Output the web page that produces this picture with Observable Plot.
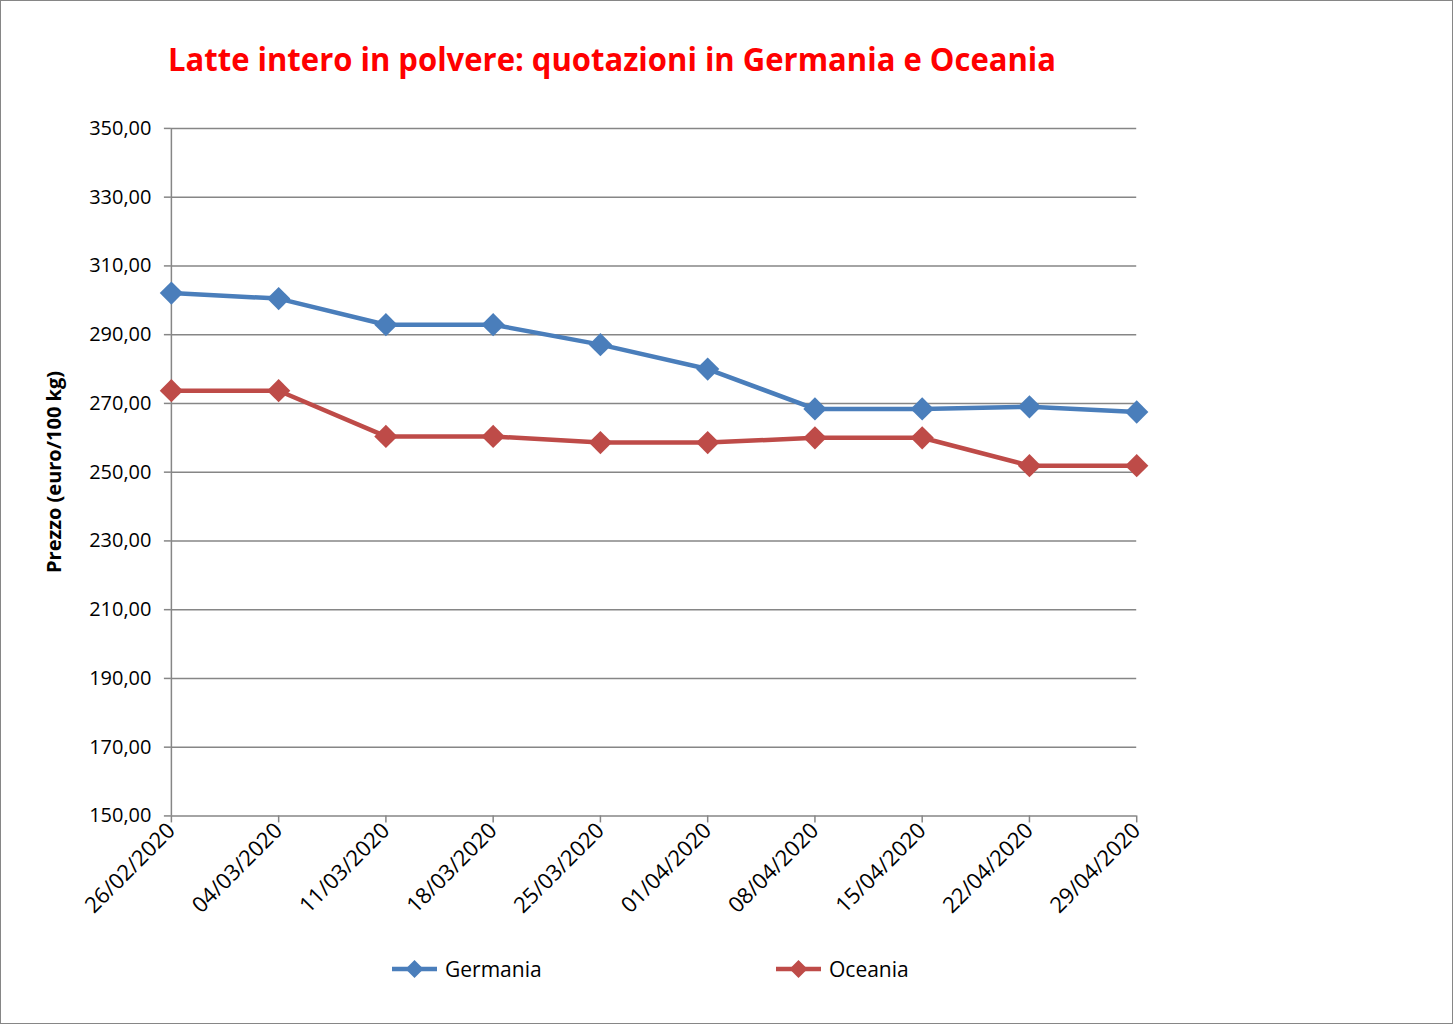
<!DOCTYPE html>
<html>
<head>
<meta charset="utf-8">
<script src="https://cdn.jsdelivr.net/npm/d3@7"></script>
<script src="https://cdn.jsdelivr.net/npm/@observablehq/plot@0.6"></script>
<style>
  html, body { margin: 0; padding: 0; background: #fff; }
  #frame { position: relative; width: 1453px; height: 1024px; box-sizing: border-box; border: 1px solid #868686; overflow: hidden; background: #fff; }
  #chart { position: absolute; left: -1px; top: -1px; }
  #title { position: absolute; left: 167px; top: 36px; font-family: "Open Sans", sans-serif; font-weight: bold; font-size: 32px; color: #ff0000; white-space: nowrap; transform-origin: left top; }
  #ylabel { position: absolute; left: 52px; top: 471px; font-family: "Open Sans", sans-serif; font-weight: bold; font-size: 20px; color: #000; white-space: nowrap; transform: translate(-50%, -50%) rotate(-90deg); }
  .leg { position: absolute; top: 954px; display: flex; align-items: center; font-family: "Open Sans", sans-serif; font-size: 21px; color: #000; }
  .leg svg { margin-right: 8px; }
</style>
</head>
<body>
<div id="frame">
  <div id="chart"></div>
  <div id="title"><span id="titletext">Latte intero in polvere: quotazioni in Germania e Oceania</span></div>
  <div id="ylabel">Prezzo (euro/100 kg)</div>
  <div id="legend"></div>
</div>
<script>
const dates = ["26/02/2020","04/03/2020","11/03/2020","18/03/2020","25/03/2020","01/04/2020","08/04/2020","15/04/2020","22/04/2020","29/04/2020"];
const germania = [302.1, 300.5, 292.9, 292.9, 287.1, 280.0, 268.4, 268.4, 269.0, 267.5];
const oceania = [273.7, 273.7, 260.4, 260.4, 258.6, 258.6, 260.0, 260.0, 251.9, 251.9];
const seriesNames = ["Germania", "Oceania"];
const seriesColors = ["#4A7EBB", "#BE4B48"];
const yTicks = [150, 170, 190, 210, 230, 250, 270, 290, 310, 330, 350];

const data = [];
dates.forEach((d, i) => {
  data.push({date: d, value: germania[i], series: seriesNames[0]});
});
dates.forEach((d, i) => {
  data.push({date: d, value: oceania[i], series: seriesNames[1]});
});

const fmt = v => v.toFixed(2).replace(".", ",");

const plot = Plot.plot({
  width: 1453,
  height: 1024,
  marginLeft: 171,
  marginRight: 316,
  marginTop: 128,
  marginBottom: 208,
  style: {fontFamily: "Open Sans, sans-serif", fontSize: "20px", color: "#000", background: "transparent"},
  x: {type: "point", domain: dates, padding: 0, round: false, label: null},
  y: {domain: [150, 350], label: null},
  color: {domain: seriesNames, range: seriesColors},
  marks: [
    Plot.gridY(yTicks, {stroke: "#868686", strokeOpacity: 1, strokeWidth: 1.5}),
    Plot.ruleX([dates[0]], {stroke: "#868686", strokeWidth: 1.5}),
    Plot.axisY(yTicks, {tickFormat: fmt, tickSize: 7, tickPadding: 13, stroke: "#868686", strokeWidth: 1.5, fontSize: 20, label: null}),
    Plot.axisX({tickRotate: -45, tickSize: 7, tickPadding: 4, stroke: "#868686", strokeWidth: 1.5, fontSize: 22, label: null}),
    Plot.line(data, {x: "date", y: "value", z: "series", stroke: "series", strokeWidth: 4.5}),
    Plot.dot(data, {x: "date", y: "value", fill: "series", symbol: "diamond2", r: 10.5})
  ]
});
document.getElementById("chart").appendChild(plot);

// legend
const legend = document.getElementById("legend");
const legX = [391, 775];
seriesNames.forEach((name, i) => {
  const div = document.createElement("div");
  div.className = "leg";
  div.style.left = legX[i] + "px";
  const c = seriesColors[i];
  div.innerHTML = `<svg width="45" height="28"><line x1="0" y1="14" x2="45" y2="14" stroke="${c}" stroke-width="4.5"/><path d="M22.5,5 L31.5,14 L22.5,23 L13.5,14 Z" fill="${c}"/></svg><span>${name}</span>`;
  legend.appendChild(div);
});

// fit title width
const tt = document.getElementById("titletext");
const w = tt.getBoundingClientRect().width;
document.getElementById("title").style.transform = `scaleX(${888 / w})`;
</script>
</body>
</html>
